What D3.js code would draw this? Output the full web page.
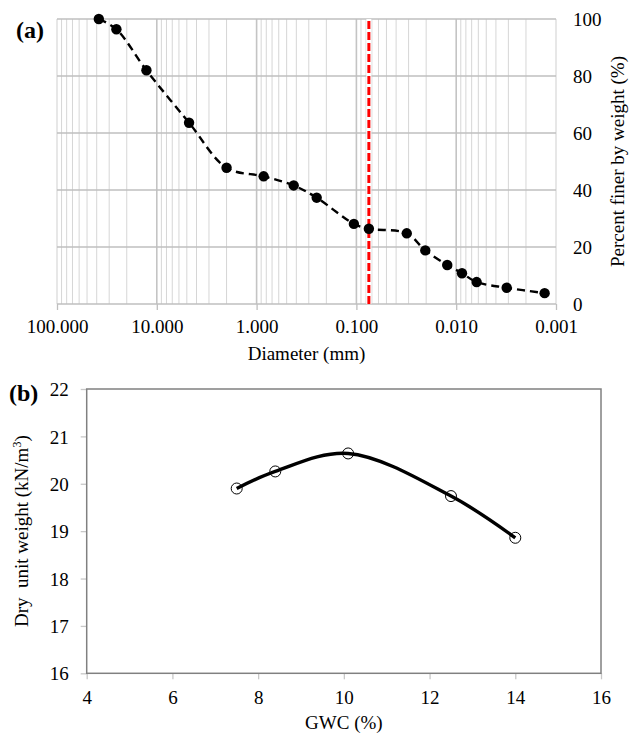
<!DOCTYPE html>
<html>
<head>
<meta charset="utf-8">
<script src="https://cdn.jsdelivr.net/npm/d3@7"></script>
<style>
  body { margin: 0; background: #fff; }
  svg text { font-family: "Liberation Serif", "Times New Roman", Times, serif; }
</style>
</head>
<body>
<div id="container"></div>
<script>
// (a) grain size distribution
var diameters = [38.1, 25.4, 12.7, 4.75, 2.0, 0.85, 0.425, 0.25, 0.106, 0.075, 0.0313, 0.0204, 0.0123, 0.00875, 0.00624, 0.00312, 0.0013];
var percentFiner = [100, 96.4, 82.0, 63.6, 47.8, 44.8, 41.6, 37.3, 28.1, 26.4, 24.8, 18.8, 13.7, 10.8, 7.7, 5.7, 3.8];
var decadeTicks = [100, 10, 1, 0.1, 0.01, 0.001];
var percentTicks = [0, 20, 40, 60, 80, 100];
var cutoffDiameter = 0.075;

// (b) compaction curve
var gwc = [7.5, 8.4, 10.1, 12.5, 14.0];
var dryUnitWeight = [19.9, 20.26, 20.64, 19.74, 18.86];
var gwcTicks = [4, 6, 8, 10, 12, 14, 16];
var weightTicks = [16, 17, 18, 19, 20, 21, 22];

var FONT = '"Liberation Serif", "Times New Roman", Times, serif';

var svg = d3.select('#container').append('svg')
  .attr('width', 635)
  .attr('height', 734);

// ---------- chart (a) ----------
var xA = d3.scaleLog().domain([100, 0.001]).range([57, 556]);
var yA = d3.scaleLinear().domain([0, 100]).range([304, 19]);

var gA = svg.append('g');

// minor vertical grid
var minorVals = [];
for (var e = -3; e < 2; e++) {
  for (var m = 2; m <= 9; m++) minorVals.push(m * Math.pow(10, e));
}
gA.selectAll('.minor')
  .data(minorVals)
  .enter()
  .append('line')
  .attr('x1', function(d) { return xA(d); })
  .attr('x2', function(d) { return xA(d); })
  .attr('y1', yA(0))
  .attr('y2', yA(100))
  .attr('stroke', '#d6d6d6')
  .attr('stroke-width', 1);

gA.selectAll('.major')
  .data(decadeTicks)
  .enter()
  .append('line')
  .attr('x1', function(d) { return xA(d); })
  .attr('x2', function(d) { return xA(d); })
  .attr('y1', yA(0))
  .attr('y2', yA(100))
  .attr('stroke', function(d) { return (d === 100 || d === 0.001) ? '#cfcfcf' : '#c4c4c4'; })
  .attr('stroke-width', function(d) { return (d === 100 || d === 0.001) ? 1 : 1.6; });

gA.selectAll('.hgrid')
  .data(percentTicks)
  .enter()
  .append('line')
  .attr('x1', xA(100))
  .attr('x2', xA(0.001))
  .attr('y1', function(d) { return yA(d); })
  .attr('y2', function(d) { return yA(d); })
  .attr('stroke', '#bfbfbf')
  .attr('stroke-width', 1.3);

// bottom axis ticks + labels
var xAxisA = d3.axisBottom(xA)
  .tickValues(decadeTicks)
  .tickSize(6)
  .tickFormat(d3.format('.3f'));
var axA = gA.append('g')
  .attr('transform', 'translate(0,' + yA(0) + ')')
  .call(xAxisA);
axA.attr('font-family', null).attr('font-size', null);
axA.select('.domain').remove();
axA.selectAll('.tick line').attr('stroke', '#bfbfbf').attr('stroke-width', 1.3);
axA.selectAll('.tick text')
  .attr('y', 0)
  .attr('dy', 29)
  .attr('fill', '#000')
  .style('font-size', '19px')
  .style('font-family', FONT);

// right labels
gA.selectAll('.ylab')
  .data(percentTicks)
  .enter()
  .append('text')
  .attr('x', 573)
  .attr('y', function(d) { return yA(d); })
  .attr('dy', '0.35em')
  .style('font-size', '19px')
  .style('font-family', FONT)
  .text(function(d) { return d; });

gA.append('text')
  .attr('transform', 'translate(624,' + ((yA(0) + yA(100)) / 2) + ') rotate(-90)')
  .attr('text-anchor', 'middle')
  .style('font-size', '19px')
  .style('font-family', FONT)
  .text('Percent finer by weight (%)');

gA.append('text')
  .attr('x', (xA(100) + xA(0.001)) / 2)
  .attr('y', 360)
  .attr('text-anchor', 'middle')
  .style('font-size', '19px')
  .style('font-family', FONT)
  .text('Diameter (mm)');

gA.append('text')
  .attr('x', 16)
  .attr('y', 38)
  .style('font-size', '24px')
  .style('font-weight', 'bold')
  .style('font-family', FONT)
  .text('(a)');

// red cutoff line
gA.append('line')
  .attr('x1', xA(cutoffDiameter)).attr('x2', xA(cutoffDiameter))
  .attr('y1', yA(0)).attr('y2', yA(100))
  .attr('stroke', '#fff')
  .attr('stroke-width', 5);
gA.append('line')
  .attr('x1', xA(cutoffDiameter)).attr('x2', xA(cutoffDiameter))
  .attr('y1', yA(0)).attr('y2', yA(100))
  .attr('stroke', '#ff0000')
  .attr('stroke-width', 3)
  .attr('stroke-dasharray', '8,3');

var gradation = diameters.map(function(d, i) { return [d, percentFiner[i]]; });

var lineA = d3.line()
  .x(function(d) { return xA(d[0]); })
  .y(function(d) { return yA(d[1]); })
  .curve(d3.curveCatmullRom.alpha(0.5));

gA.append('path')
  .datum(gradation)
  .attr('d', lineA)
  .attr('fill', 'none')
  .attr('stroke', '#000')
  .attr('stroke-width', 2.4)
  .attr('stroke-dasharray', '8,5');

gA.selectAll('.pt')
  .data(gradation)
  .enter()
  .append('circle')
  .attr('cx', function(d) { return xA(d[0]); })
  .attr('cy', function(d) { return yA(d[1]); })
  .attr('r', 5.2)
  .attr('fill', '#000');

// ---------- chart (b) ----------
var xB = d3.scaleLinear().domain([4, 16]).range([86.7, 601]);
var yB = d3.scaleLinear().domain([16, 22]).range([673.3, 389]);

var gB = svg.append('g');

var xAxisB = d3.axisBottom(xB).tickValues(gwcTicks).tickSize(6).tickSizeOuter(0).tickFormat(d3.format('d'));
var axBx = gB.append('g')
  .attr('transform', 'translate(0,' + yB(16) + ')')
  .call(xAxisB);
axBx.attr('font-family', null).attr('font-size', null);
axBx.select('.domain').remove();
axBx.selectAll('.tick line').attr('stroke', '#c8c8c8').attr('stroke-width', 1.3);
axBx.selectAll('.tick text')
  .attr('dy', 22)
  .attr('fill', '#000')
  .style('font-size', '19px')
  .style('font-family', FONT);

var yAxisB = d3.axisLeft(yB).tickValues(weightTicks).tickSize(6).tickSizeOuter(0).tickFormat(d3.format('d'));
var axBy = gB.append('g')
  .attr('transform', 'translate(' + xB(4) + ',0)')
  .call(yAxisB);
axBy.attr('font-family', null).attr('font-size', null);
axBy.select('.domain').remove();
axBy.selectAll('.tick line').attr('stroke', '#c8c8c8').attr('stroke-width', 1.3);
axBy.selectAll('.tick text')
  .attr('x', -18)
  .attr('dy', '0.35em')
  .attr('fill', '#000')
  .style('font-size', '19px')
  .style('font-family', FONT);

gB.append('rect')
  .attr('x', xB(4))
  .attr('y', yB(22))
  .attr('width', xB(16) - xB(4))
  .attr('height', yB(16) - yB(22))
  .attr('fill', 'none')
  .attr('stroke', '#808080')
  .attr('stroke-width', 1.5);

var compaction = gwc.map(function(d, i) { return [d, dryUnitWeight[i]]; });

var lineB = d3.line()
  .x(function(d) { return xB(d[0]); })
  .y(function(d) { return yB(d[1]); })
  .curve(d3.curveCatmullRom.alpha(0.5));

gB.append('path')
  .datum(compaction)
  .attr('d', lineB)
  .attr('fill', 'none')
  .attr('stroke', '#000')
  .attr('stroke-width', 3.4);

gB.selectAll('.pt')
  .data(compaction)
  .enter()
  .append('circle')
  .attr('cx', function(d) { return xB(d[0]); })
  .attr('cy', function(d) { return yB(d[1]); })
  .attr('r', 5.5)
  .attr('fill', 'none')
  .attr('stroke', '#000')
  .attr('stroke-width', 1);

gB.append('text')
  .attr('x', (xB(4) + xB(16)) / 2)
  .attr('y', 729)
  .attr('text-anchor', 'middle')
  .style('font-size', '19px')
  .style('font-family', FONT)
  .text('GWC (%)');

var yTitle = gB.append('text')
  .attr('transform', 'translate(28,' + ((yB(16) + yB(22)) / 2) + ') rotate(-90)')
  .attr('text-anchor', 'middle')
  .style('font-size', '19px')
  .style('font-family', FONT);
yTitle.append('tspan').text('Dry\u00a0 unit weight (kN/m');
yTitle.append('tspan').attr('dy', -7).style('font-size', '12px').text('3');
yTitle.append('tspan').attr('dy', 7).text(')');

gB.append('text')
  .attr('x', 9)
  .attr('y', 401)
  .style('font-size', '24px')
  .style('font-weight', 'bold')
  .style('font-family', FONT)
  .text('(b)');
</script>
</body>
</html>
